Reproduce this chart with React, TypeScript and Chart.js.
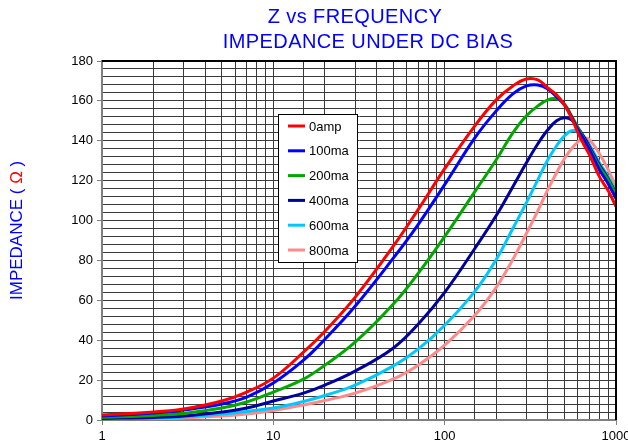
import React, { useEffect, useRef } from "react";
import { Chart, registerables } from "chart.js";

Chart.register(...registerables);

// ---- data ----
const FREQ = [1, 2, 3, 5, 7, 10, 15, 20, 30, 50, 70, 100, 150, 200, 250, 300, 350, 400, 450, 500, 550, 600, 650, 700, 800, 900, 1000];
const Z_0AMP = [2.5, 4, 5.5, 9.5, 14, 21, 34, 44.5, 61.5, 87, 105.5, 126, 147.5, 160.5, 167.5, 171, 170.5, 166.5, 163, 158, 151.5, 144, 138, 133, 122, 115, 107];
const Z_100MA = [2, 3.5, 5, 8, 11.5, 18.5, 30, 40.5, 57, 81, 98, 118, 141.5, 155, 163.5, 167.5, 168, 166, 162, 158, 152, 145.5, 140.5, 135.5, 125.5, 118.5, 111];
const Z_200MA = [1.3, 2.3, 3.3, 6, 9, 14, 20.5, 27.5, 39, 58, 73.5, 92, 114.5, 130.5, 144, 152.5, 157.5, 160.5, 161, 158.5, 152.5, 146.5, 141, 136, 127, 120.5, 113];
const Z_400MA = [0.8, 1.3, 2, 4, 6, 9.5, 13.5, 17.5, 24.5, 36, 48, 64, 86, 102.5, 117, 129, 138.5, 145.5, 150, 151.5, 150.5, 146.5, 142, 137, 128, 121, 113.5];
const Z_600MA = [0.5, 1, 1.5, 3, 4.3, 6, 9.3, 12.3, 17.5, 27, 35.5, 47.5, 64.5, 80.5, 96, 109, 120.5, 130.5, 137.5, 142.5, 145, 144.5, 141.5, 138, 129, 122, 114.5];
const Z_800MA = [0.3, 0.6, 1, 2, 3, 4.8, 7.5, 9.8, 13.5, 20.5, 27.5, 37.5, 52.5, 66.5, 80.5, 93.5, 105, 115.5, 124, 131, 136, 139.5, 141.3, 140.5, 133.5, 125.5, 117];

const SERIES_LABELS = ["0amp", "100ma", "200ma", "400ma", "600ma", "800ma"];
const SERIES_VALUES = [Z_0AMP, Z_100MA, Z_200MA, Z_400MA, Z_600MA, Z_800MA];
const SERIES_COLORS = ["#FF0000", "#0000FF", "#00A800", "#00009C", "#00C8FF", "#FF8A8A"];

const X_TICK_LABELS = [1, 10, 100, 1000];
const Y_LABEL_STEP = 20;
const TITLE_LINES = ["Z vs FREQUENCY", "IMPEDANCE UNDER DC BIAS"];
const Y_TITLE_PARTS = [
  { text: "IMPEDANCE ( ", color: "#0000FF" },
  { text: "\u03A9", color: "#FF0000" },
  { text: " )", color: "#0000FF" },
];

const FONT = '"Liberation Sans", Arial, sans-serif';

const isDecade = (v: number) => X_TICK_LABELS.some((d) => Math.abs(d - v) < 1e-6 * d);

const decorPlugin = {
  id: "decor",
  afterDraw(chart: any) {
    const ctx = chart.ctx as any;
    const { left, right, top, bottom } = chart.chartArea;
    ctx.save();
    // top & right frame
    ctx.strokeStyle = "#000";
    ctx.lineWidth = 2;
    ctx.beginPath();
    ctx.moveTo(left, top);
    ctx.lineTo(right, top);
    ctx.lineTo(right, bottom);
    ctx.stroke();

    // titles
    ctx.fillStyle = "#0000FF";
    ctx.font = `20px ${FONT}`;
    ctx.textAlign = "center";
    ctx.textBaseline = "alphabetic";
    ctx.letterSpacing = "0.4px";
    ctx.fillText(TITLE_LINES[0], 355, 23);
    ctx.fillText(TITLE_LINES[1], 368, 48);
    ctx.letterSpacing = "0px";

    // y axis title
    ctx.save();
    ctx.translate(17, 300);
    ctx.rotate(-Math.PI / 2);
    ctx.font = `17px ${FONT}`;
    ctx.textAlign = "left";
    ctx.textBaseline = "middle";
    let x = 0;
    for (const p of Y_TITLE_PARTS) {
      ctx.fillStyle = p.color;
      ctx.fillText(p.text, x, 0);
      x += ctx.measureText(p.text).width;
    }
    ctx.restore();

    // legend
    const lx = 278, ly = 114, lw = 79, lh = 148;
    ctx.fillStyle = "#FFFFFF";
    ctx.fillRect(lx, ly, lw, lh);
    ctx.strokeStyle = "#000";
    ctx.lineWidth = 1;
    ctx.strokeRect(lx + 0.5, ly + 0.5, lw, lh);
    ctx.font = `13px ${FONT}`;
    ctx.textAlign = "left";
    ctx.textBaseline = "middle";
    chart.data.datasets.forEach((ds: any, i: number) => {
      const yy = ly + 12 + i * 24.8;
      ctx.strokeStyle = ds.borderColor;
      ctx.lineWidth = 3;
      ctx.beginPath();
      ctx.moveTo(lx + 10, yy);
      ctx.lineTo(lx + 27, yy);
      ctx.stroke();
      ctx.fillStyle = "#000";
      ctx.fillText(ds.label, lx + 31, yy + 1);
    });
    ctx.restore();
  },
};

export default function App() {
  const ref = useRef<HTMLCanvasElement | null>(null);
  useEffect(() => {
    if (!ref.current) return;
    const chart = new Chart(ref.current, {
      type: "line",
      data: {
        datasets: SERIES_LABELS.map((label, i) => ({
          label,
          data: FREQ.map((f, j) => ({ x: f, y: SERIES_VALUES[i][j] })),
          borderColor: SERIES_COLORS[i],
          backgroundColor: SERIES_COLORS[i],
          borderWidth: 3,
          pointRadius: 0,
          tension: 0.4,
          fill: false,
        })),
      },
      options: {
        responsive: false,
        animation: false,
        layout: { padding: { left: 0, right: 12, top: 61, bottom: 0 } },
        plugins: {
          legend: { display: false },
          title: { display: false },
          tooltip: { enabled: false },
        },
        scales: {
          x: {
            type: "logarithmic",
            min: 1,
            max: 1000,
            afterFit: (s: any) => {
              s.height = 26;
              s.paddingLeft = 0;
              s.paddingRight = 0;
            },
            grid: {
              color: "#3a3a3a",
              lineWidth: 1,
              tickLength: 5,
              tickColor: (c: any) => (c.tick && isDecade(c.tick.value) ? "#808080" : "rgba(0,0,0,0)"),
            },
            border: { color: "#808080", width: 2 },
            ticks: {
              autoSkip: false,
              maxRotation: 0,
              minRotation: 0,
              padding: 4,
              color: "#000",
              font: { size: 13, family: FONT },
              callback: (v: any) => (isDecade(Number(v)) ? String(Math.round(Number(v))) : ""),
            },
          },
          y: {
            min: 0,
            max: 180,
            afterFit: (s: any) => {
              s.width = 102;
            },
            grid: {
              color: "#3a3a3a",
              lineWidth: 1,
              tickLength: 5,
              tickColor: (c: any) => (c.tick && c.tick.value % Y_LABEL_STEP === 0 ? "#808080" : "rgba(0,0,0,0)"),
            },
            border: { color: "#808080", width: 2 },
            ticks: {
              stepSize: 4,
              maxTicksLimit: 100,
              autoSkip: false,
              padding: 4,
              color: "#000",
              font: { size: 13, family: FONT },
              callback: (v: any) => (Number(v) % Y_LABEL_STEP === 0 ? String(v) : ""),
            },
          },
        },
      },
      plugins: [decorPlugin],
    } as any);
    return () => chart.destroy();
  }, []);
  return (
    <div style={{ position: "fixed", left: 0, top: 0, width: 628, height: 446, background: "#fff" }}>
      <canvas ref={ref} width={628} height={446} style={{ display: "block" }} />
    </div>
  );
}
